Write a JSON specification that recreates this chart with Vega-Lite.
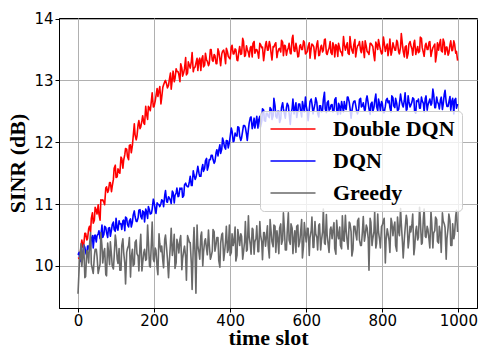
{
"$schema":"https://vega.github.io/schema/vega-lite/v6.json",
"width":418,"height":290,
"autosize":{"type":"none"},
"padding":{"left":59,"top":18,"right":5,"bottom":41},
"background":"white",
"config":{
"view":{"stroke":"black","strokeWidth":1},
"axis":{"grid":true,"gridColor":"#b0b0b0","gridWidth":1,"gridOpacity":1,"domainColor":"black","domainWidth":1,"tickColor":"black","tickSize":4,"tickWidth":1,"labelFont":"DejaVu Sans","labelFontSize":15,"labelColor":"black","titleFont":"Liberation Serif","titleFontSize":22,"titleFontWeight":"bold","titleColor":"black"},
"legend":{"orient":"none","legendX":201,"legendY":93,"symbolType":"M-2.5,0H2.5","symbolSize":324,"symbolStrokeWidth":1.5,"symbolOffset":15,"labelFont":"Liberation Serif","labelFontSize":22,"labelFontWeight":"bold","labelColor":"black","labelOffset":29,"rowPadding":10,"padding":7,"fillColor":"rgba(255,255,255,0.8)","strokeColor":"#cccccc","cornerRadius":4}
},
"datasets":{
"ddqn":[{"t":0,"v":10.12},{"t":5,"v":10.14},{"t":10,"v":10.42},{"t":15,"v":10.34},{"t":20,"v":10.53},{"t":25,"v":10.44},{"t":30,"v":10.64},{"t":35,"v":10.77},{"t":40,"v":10.69},{"t":45,"v":10.95},
{"t":50,"v":10.84},{"t":55,"v":10.84},{"t":60,"v":11.07},{"t":65,"v":11.07},{"t":70,"v":10.99},{"t":75,"v":11.28},{"t":80,"v":11.22},{"t":85,"v":11.35},{"t":90,"v":11.29},{"t":95,"v":11.58},
{"t":100,"v":11.43},{"t":105,"v":11.57},{"t":110,"v":11.50},{"t":115,"v":11.74},{"t":120,"v":11.71},{"t":125,"v":11.90},{"t":130,"v":11.77},{"t":135,"v":11.95},{"t":140,"v":11.83},{"t":145,"v":12.09},
{"t":150,"v":12.12},{"t":155,"v":12.10},{"t":160,"v":12.35},{"t":165,"v":12.25},{"t":170,"v":12.43},{"t":175,"v":12.29},{"t":180,"v":12.46},{"t":185,"v":12.58},{"t":190,"v":12.51},{"t":195,"v":12.80},
{"t":200,"v":12.58},{"t":205,"v":12.75},{"t":210,"v":12.74},{"t":215,"v":12.90},{"t":220,"v":12.72},{"t":225,"v":12.93},{"t":230,"v":13.00},{"t":235,"v":12.88},{"t":240,"v":13.01},{"t":245,"v":12.86},
{"t":250,"v":13.15},{"t":255,"v":13.03},{"t":260,"v":13.15},{"t":265,"v":13.10},{"t":270,"v":13.27},{"t":275,"v":13.07},{"t":280,"v":13.19},{"t":285,"v":13.09},{"t":290,"v":13.30},{"t":295,"v":13.20},
{"t":300,"v":13.45},{"t":305,"v":13.20},{"t":310,"v":13.28},{"t":315,"v":13.16},{"t":320,"v":13.36},{"t":325,"v":13.34},{"t":330,"v":13.22},{"t":335,"v":13.44},{"t":340,"v":13.31},{"t":345,"v":13.27},
{"t":350,"v":13.50},{"t":355,"v":13.31},{"t":360,"v":13.40},{"t":365,"v":13.27},{"t":370,"v":13.47},{"t":375,"v":13.24},{"t":380,"v":13.47},{"t":385,"v":13.43},{"t":390,"v":13.52},{"t":395,"v":13.39},
{"t":400,"v":13.35},{"t":405,"v":13.57},{"t":410,"v":13.43},{"t":415,"v":13.50},{"t":420,"v":13.32},{"t":425,"v":13.55},{"t":430,"v":13.43},{"t":435,"v":13.64},{"t":440,"v":13.40},{"t":445,"v":13.50},
{"t":450,"v":13.38},{"t":455,"v":13.55},{"t":460,"v":13.60},{"t":465,"v":13.44},{"t":470,"v":13.50},{"t":475,"v":13.36},{"t":480,"v":13.58},{"t":485,"v":13.54},{"t":490,"v":13.42},{"t":495,"v":13.63},
{"t":500,"v":13.49},{"t":505,"v":13.58},{"t":510,"v":13.33},{"t":515,"v":13.54},{"t":520,"v":13.61},{"t":525,"v":13.45},{"t":530,"v":13.52},{"t":535,"v":13.65},{"t":540,"v":13.40},{"t":545,"v":13.56},
{"t":550,"v":13.48},{"t":555,"v":13.60},{"t":560,"v":13.43},{"t":565,"v":13.73},{"t":570,"v":13.47},{"t":575,"v":13.53},{"t":580,"v":13.39},{"t":585,"v":13.58},{"t":590,"v":13.50},{"t":595,"v":13.62},
{"t":600,"v":13.44},{"t":605,"v":13.55},{"t":610,"v":13.36},{"t":615,"v":13.59},{"t":620,"v":13.54},{"t":625,"v":13.46},{"t":630,"v":13.64},{"t":635,"v":13.41},{"t":640,"v":13.57},{"t":645,"v":13.49},
{"t":650,"v":13.67},{"t":655,"v":13.42},{"t":660,"v":13.52},{"t":665,"v":13.45},{"t":670,"v":13.61},{"t":675,"v":13.38},{"t":680,"v":13.56},{"t":685,"v":13.60},{"t":690,"v":13.47},{"t":695,"v":13.40},
{"t":700,"v":13.59},{"t":705,"v":13.54},{"t":710,"v":13.44},{"t":715,"v":13.71},{"t":720,"v":13.49},{"t":725,"v":13.58},{"t":730,"v":13.38},{"t":735,"v":13.56},{"t":740,"v":13.63},{"t":745,"v":13.45},
{"t":750,"v":13.52},{"t":755,"v":13.64},{"t":760,"v":13.47},{"t":765,"v":13.42},{"t":770,"v":13.60},{"t":775,"v":13.55},{"t":780,"v":13.32},{"t":785,"v":13.58},{"t":790,"v":13.66},{"t":795,"v":13.50},
{"t":800,"v":13.44},{"t":805,"v":13.61},{"t":810,"v":13.53},{"t":815,"v":13.40},{"t":820,"v":13.67},{"t":825,"v":13.46},{"t":830,"v":13.56},{"t":835,"v":13.49},{"t":840,"v":13.62},{"t":845,"v":13.43},
{"t":850,"v":13.76},{"t":855,"v":13.47},{"t":860,"v":13.54},{"t":865,"v":13.36},{"t":870,"v":13.59},{"t":875,"v":13.57},{"t":880,"v":13.41},{"t":885,"v":13.65},{"t":890,"v":13.48},{"t":895,"v":13.45},
{"t":900,"v":13.70},{"t":905,"v":13.53},{"t":910,"v":13.39},{"t":915,"v":13.60},{"t":920,"v":13.50},{"t":925,"v":13.63},{"t":930,"v":13.46},{"t":935,"v":13.55},{"t":940,"v":13.30},{"t":945,"v":13.61},
{"t":950,"v":13.58},{"t":955,"v":13.48},{"t":960,"v":13.67},{"t":965,"v":13.42},{"t":970,"v":13.54},{"t":975,"v":13.44},{"t":980,"v":13.64},{"t":985,"v":13.49},{"t":990,"v":13.59},{"t":995,"v":13.47},
{"t":3,"v":10.13},{"t":8,"v":10.32},{"t":13,"v":10.30},{"t":18,"v":10.53},{"t":23,"v":10.42},{"t":28,"v":10.60},{"t":33,"v":10.55},{"t":38,"v":10.86},{"t":43,"v":10.74},{"t":48,"v":10.90},
{"t":53,"v":10.99},{"t":58,"v":10.74},{"t":63,"v":11.06},{"t":68,"v":11.03},{"t":73,"v":11.26},{"t":78,"v":11.19},{"t":83,"v":11.35},{"t":88,"v":11.20},{"t":93,"v":11.40},{"t":98,"v":11.63},
{"t":103,"v":11.44},{"t":108,"v":11.53},{"t":113,"v":11.76},{"t":118,"v":11.58},{"t":123,"v":11.80},{"t":128,"v":11.89},{"t":133,"v":11.72},{"t":138,"v":11.96},{"t":143,"v":11.95},{"t":148,"v":12.30},
{"t":153,"v":12.04},{"t":158,"v":12.29},{"t":163,"v":12.22},{"t":168,"v":12.35},{"t":173,"v":12.31},{"t":178,"v":12.58},{"t":183,"v":12.37},{"t":188,"v":12.55},{"t":193,"v":12.68},{"t":198,"v":12.57},
{"t":203,"v":12.67},{"t":208,"v":12.87},{"t":213,"v":12.84},{"t":218,"v":12.62},{"t":223,"v":12.89},{"t":228,"v":12.98},{"t":233,"v":12.94},{"t":238,"v":12.92},{"t":243,"v":13.12},{"t":248,"v":13.03},
{"t":253,"v":12.98},{"t":258,"v":13.19},{"t":263,"v":13.14},{"t":268,"v":12.98},{"t":273,"v":13.20},{"t":278,"v":13.13},{"t":283,"v":13.37},{"t":288,"v":13.12},{"t":293,"v":13.24},{"t":298,"v":13.31},
{"t":303,"v":13.14},{"t":308,"v":13.22},{"t":313,"v":13.36},{"t":318,"v":13.33},{"t":323,"v":13.16},{"t":328,"v":13.40},{"t":333,"v":13.25},{"t":338,"v":13.33},{"t":343,"v":13.24},{"t":348,"v":13.50},
{"t":353,"v":13.33},{"t":358,"v":13.42},{"t":363,"v":13.27},{"t":368,"v":13.51},{"t":373,"v":13.34},{"t":378,"v":13.43},{"t":383,"v":13.49},{"t":388,"v":13.27},{"t":393,"v":13.46},{"t":398,"v":13.36},
{"t":403,"v":13.54},{"t":408,"v":13.43},{"t":413,"v":13.51},{"t":418,"v":13.33},{"t":423,"v":13.47},{"t":428,"v":13.42},{"t":433,"v":13.68},{"t":438,"v":13.39},{"t":443,"v":13.56},{"t":448,"v":13.45},
{"t":453,"v":13.53},{"t":458,"v":13.38},{"t":463,"v":13.63},{"t":468,"v":13.50},{"t":473,"v":13.44},{"t":478,"v":13.60},{"t":483,"v":13.53},{"t":488,"v":13.32},{"t":493,"v":13.58},{"t":498,"v":13.49},
{"t":503,"v":13.63},{"t":508,"v":13.42},{"t":513,"v":13.55},{"t":518,"v":13.59},{"t":523,"v":13.37},{"t":528,"v":13.51},{"t":533,"v":13.46},{"t":538,"v":13.62},{"t":543,"v":13.57},{"t":548,"v":13.41},
{"t":553,"v":13.53},{"t":558,"v":13.44},{"t":563,"v":13.68},{"t":568,"v":13.48},{"t":573,"v":13.60},{"t":578,"v":13.38},{"t":583,"v":13.56},{"t":588,"v":13.50},{"t":593,"v":13.64},{"t":598,"v":13.43},
{"t":603,"v":13.47},{"t":608,"v":13.61},{"t":613,"v":13.52},{"t":618,"v":13.57},{"t":623,"v":13.35},{"t":628,"v":13.59},{"t":633,"v":13.40},{"t":638,"v":13.54},{"t":643,"v":13.46},{"t":648,"v":13.66},
{"t":653,"v":13.44},{"t":658,"v":13.49},{"t":663,"v":13.63},{"t":668,"v":13.42},{"t":673,"v":13.55},{"t":678,"v":13.58},{"t":683,"v":13.39},{"t":688,"v":13.52},{"t":693,"v":13.45},{"t":698,"v":13.71},
{"t":703,"v":13.49},{"t":708,"v":13.61},{"t":713,"v":13.42},{"t":718,"v":13.54},{"t":723,"v":13.44},{"t":728,"v":13.66},{"t":733,"v":13.51},{"t":738,"v":13.58},{"t":743,"v":13.48},{"t":748,"v":13.63},
{"t":753,"v":13.37},{"t":758,"v":13.55},{"t":763,"v":13.45},{"t":768,"v":13.60},{"t":773,"v":13.57},{"t":778,"v":13.40},{"t":783,"v":13.62},{"t":788,"v":13.50},{"t":793,"v":13.56},{"t":798,"v":13.43},
{"t":803,"v":13.70},{"t":808,"v":13.47},{"t":813,"v":13.59},{"t":818,"v":13.52},{"t":823,"v":13.41},{"t":828,"v":13.61},{"t":833,"v":13.49},{"t":838,"v":13.65},{"t":843,"v":13.46},{"t":848,"v":13.54},
{"t":853,"v":13.58},{"t":858,"v":13.38},{"t":863,"v":13.56},{"t":868,"v":13.44},{"t":873,"v":13.63},{"t":878,"v":13.51},{"t":883,"v":13.60},{"t":888,"v":13.42},{"t":893,"v":13.55},{"t":898,"v":13.47},
{"t":903,"v":13.68},{"t":908,"v":13.45},{"t":913,"v":13.57},{"t":918,"v":13.50},{"t":923,"v":13.62},{"t":928,"v":13.39},{"t":933,"v":13.53},{"t":938,"v":13.59},{"t":943,"v":13.43},{"t":948,"v":13.49},
{"t":953,"v":13.66},{"t":958,"v":13.46},{"t":963,"v":13.61},{"t":968,"v":13.54},{"t":973,"v":13.41},{"t":978,"v":13.58},{"t":983,"v":13.48},{"t":988,"v":13.64},{"t":993,"v":13.44},{"t":998,"v":13.32}],
"dqn":[{"t":0,"v":10.18},{"t":5,"v":10.10},{"t":10,"v":10.11},{"t":15,"v":10.34},{"t":20,"v":10.22},{"t":25,"v":10.32},{"t":30,"v":10.25},{"t":35,"v":10.44},{"t":40,"v":10.29},{"t":45,"v":10.50},
{"t":50,"v":10.49},{"t":55,"v":10.57},{"t":60,"v":10.48},{"t":65,"v":10.46},{"t":70,"v":10.64},{"t":75,"v":10.54},{"t":80,"v":10.61},{"t":85,"v":10.48},{"t":90,"v":10.67},{"t":95,"v":10.59},
{"t":100,"v":10.77},{"t":105,"v":10.58},{"t":110,"v":10.68},{"t":115,"v":10.59},{"t":120,"v":10.74},{"t":125,"v":10.79},{"t":130,"v":10.67},{"t":135,"v":10.73},{"t":140,"v":10.63},{"t":145,"v":10.82},
{"t":150,"v":10.80},{"t":155,"v":10.72},{"t":160,"v":10.90},{"t":165,"v":10.80},{"t":170,"v":10.89},{"t":175,"v":10.71},{"t":180,"v":10.88},{"t":185,"v":10.96},{"t":190,"v":10.84},{"t":195,"v":10.92},
{"t":200,"v":11.03},{"t":205,"v":10.85},{"t":210,"v":11.00},{"t":215,"v":10.96},{"t":220,"v":11.07},{"t":225,"v":10.96},{"t":230,"v":11.22},{"t":235,"v":11.03},{"t":240,"v":11.10},{"t":245,"v":11.01},
{"t":250,"v":11.19},{"t":255,"v":11.14},{"t":260,"v":11.26},{"t":265,"v":11.13},{"t":270,"v":11.24},{"t":275,"v":11.11},{"t":280,"v":11.31},{"t":285,"v":11.30},{"t":290,"v":11.28},{"t":295,"v":11.45},
{"t":300,"v":11.30},{"t":305,"v":11.47},{"t":310,"v":11.43},{"t":315,"v":11.61},{"t":320,"v":11.45},{"t":325,"v":11.56},{"t":330,"v":11.53},{"t":335,"v":11.70},{"t":340,"v":11.55},{"t":345,"v":11.72},
{"t":350,"v":11.79},{"t":355,"v":11.72},{"t":360,"v":11.69},{"t":365,"v":11.88},{"t":370,"v":11.87},{"t":375,"v":11.82},{"t":380,"v":12.07},{"t":385,"v":11.93},{"t":390,"v":12.03},{"t":395,"v":11.91},
{"t":400,"v":12.09},{"t":405,"v":12.18},{"t":410,"v":12.02},{"t":415,"v":12.11},{"t":420,"v":12.25},{"t":425,"v":12.10},{"t":430,"v":12.07},{"t":435,"v":12.27},{"t":440,"v":12.24},{"t":445,"v":12.03},
{"t":450,"v":12.31},{"t":455,"v":12.41},{"t":460,"v":12.27},{"t":465,"v":12.23},{"t":470,"v":12.42},{"t":475,"v":12.36},{"t":480,"v":12.25},{"t":485,"v":12.54},{"t":490,"v":12.35},{"t":495,"v":12.47},
{"t":500,"v":12.42},{"t":505,"v":12.56},{"t":510,"v":12.37},{"t":515,"v":12.71},{"t":520,"v":12.42},{"t":525,"v":12.50},{"t":530,"v":12.32},{"t":535,"v":12.56},{"t":540,"v":12.54},{"t":545,"v":12.39},
{"t":550,"v":12.63},{"t":555,"v":12.47},{"t":560,"v":12.45},{"t":565,"v":12.70},{"t":570,"v":12.54},{"t":575,"v":12.40},{"t":580,"v":12.62},{"t":585,"v":12.52},{"t":590,"v":12.66},{"t":595,"v":12.49},
{"t":600,"v":12.59},{"t":605,"v":12.35},{"t":610,"v":12.66},{"t":615,"v":12.63},{"t":620,"v":12.53},{"t":625,"v":12.72},{"t":630,"v":12.47},{"t":635,"v":12.59},{"t":640,"v":12.49},{"t":645,"v":12.69},
{"t":650,"v":12.54},{"t":655,"v":12.64},{"t":660,"v":12.52},{"t":665,"v":12.60},{"t":670,"v":12.49},{"t":675,"v":12.69},{"t":680,"v":12.53},{"t":685,"v":12.63},{"t":690,"v":12.46},{"t":695,"v":12.59},
{"t":700,"v":12.66},{"t":705,"v":12.53},{"t":710,"v":12.73},{"t":715,"v":12.56},{"t":720,"v":12.50},{"t":725,"v":12.66},{"t":730,"v":12.60},{"t":735,"v":12.46},{"t":740,"v":12.69},{"t":745,"v":12.57},
{"t":750,"v":12.64},{"t":755,"v":12.52},{"t":760,"v":12.75},{"t":765,"v":12.54},{"t":770,"v":12.62},{"t":775,"v":12.49},{"t":780,"v":12.67},{"t":785,"v":12.58},{"t":790,"v":12.70},{"t":795,"v":12.51},
{"t":800,"v":12.63},{"t":805,"v":12.48},{"t":810,"v":12.68},{"t":815,"v":12.64},{"t":820,"v":12.56},{"t":825,"v":12.75},{"t":830,"v":12.59},{"t":835,"v":12.71},{"t":840,"v":12.51},{"t":845,"v":12.62},
{"t":850,"v":12.69},{"t":855,"v":12.57},{"t":860,"v":12.80},{"t":865,"v":12.53},{"t":870,"v":12.66},{"t":875,"v":12.60},{"t":880,"v":12.72},{"t":885,"v":12.50},{"t":890,"v":12.67},{"t":895,"v":12.70},
{"t":900,"v":12.55},{"t":905,"v":12.67},{"t":910,"v":12.49},{"t":915,"v":12.75},{"t":920,"v":12.60},{"t":925,"v":12.70},{"t":930,"v":12.63},{"t":935,"v":12.78},{"t":940,"v":12.56},{"t":945,"v":12.66},
{"t":950,"v":12.54},{"t":955,"v":12.73},{"t":960,"v":12.61},{"t":965,"v":12.84},{"t":970,"v":12.58},{"t":975,"v":12.65},{"t":980,"v":12.52},{"t":985,"v":12.71},{"t":990,"v":12.68},{"t":995,"v":12.55},
{"t":3,"v":10.22},{"t":8,"v":10.07},{"t":13,"v":10.22},{"t":18,"v":10.30},{"t":23,"v":10.17},{"t":28,"v":10.32},{"t":33,"v":10.32},{"t":38,"v":10.49},{"t":43,"v":10.49},{"t":48,"v":10.39},
{"t":53,"v":10.52},{"t":58,"v":10.44},{"t":63,"v":10.66},{"t":68,"v":10.51},{"t":73,"v":10.62},{"t":78,"v":10.46},{"t":83,"v":10.62},{"t":88,"v":10.58},{"t":93,"v":10.71},{"t":98,"v":10.56},
{"t":103,"v":10.61},{"t":108,"v":10.73},{"t":113,"v":10.68},{"t":118,"v":10.73},{"t":123,"v":10.57},{"t":128,"v":10.77},{"t":133,"v":10.63},{"t":138,"v":10.76},{"t":143,"v":10.71},{"t":148,"v":10.89},
{"t":153,"v":10.72},{"t":158,"v":10.78},{"t":163,"v":10.91},{"t":168,"v":10.76},{"t":173,"v":10.87},{"t":178,"v":10.92},{"t":183,"v":10.77},{"t":188,"v":10.90},{"t":193,"v":10.85},{"t":198,"v":11.08},
{"t":203,"v":10.91},{"t":208,"v":11.02},{"t":213,"v":10.99},{"t":218,"v":11.01},{"t":223,"v":11.05},{"t":228,"v":11.14},{"t":233,"v":11.04},{"t":238,"v":11.12},{"t":243,"v":11.06},{"t":248,"v":11.21},
{"t":253,"v":11.02},{"t":258,"v":11.18},{"t":263,"v":11.12},{"t":268,"v":11.26},{"t":273,"v":11.26},{"t":278,"v":11.14},{"t":283,"v":11.34},{"t":288,"v":11.28},{"t":293,"v":11.37},{"t":298,"v":11.30},
{"t":303,"v":11.54},{"t":308,"v":11.40},{"t":313,"v":11.53},{"t":318,"v":11.50},{"t":323,"v":11.45},{"t":328,"v":11.64},{"t":333,"v":11.58},{"t":338,"v":11.74},{"t":343,"v":11.62},{"t":348,"v":11.72},
{"t":353,"v":11.79},{"t":358,"v":11.66},{"t":363,"v":11.83},{"t":368,"v":11.78},{"t":373,"v":11.96},{"t":378,"v":11.89},{"t":383,"v":12.00},{"t":388,"v":11.89},{"t":393,"v":12.02},{"t":398,"v":12.00},
{"t":403,"v":12.23},{"t":408,"v":12.01},{"t":413,"v":12.15},{"t":418,"v":12.10},{"t":423,"v":12.24},{"t":428,"v":12.03},{"t":433,"v":12.19},{"t":438,"v":12.27},{"t":443,"v":12.13},{"t":448,"v":12.21},
{"t":453,"v":12.40},{"t":458,"v":12.22},{"t":463,"v":12.39},{"t":468,"v":12.34},{"t":473,"v":12.23},{"t":478,"v":12.42},{"t":483,"v":12.34},{"t":488,"v":12.52},{"t":493,"v":12.34},{"t":498,"v":12.47},
{"t":503,"v":12.40},{"t":508,"v":12.53},{"t":513,"v":12.43},{"t":518,"v":12.59},{"t":523,"v":12.39},{"t":528,"v":12.50},{"t":533,"v":12.38},{"t":538,"v":12.64},{"t":543,"v":12.45},{"t":548,"v":12.56},
{"t":553,"v":12.59},{"t":558,"v":12.29},{"t":563,"v":12.55},{"t":568,"v":12.46},{"t":573,"v":12.64},{"t":578,"v":12.51},{"t":583,"v":12.62},{"t":588,"v":12.41},{"t":593,"v":12.56},{"t":598,"v":12.73},
{"t":603,"v":12.49},{"t":608,"v":12.53},{"t":613,"v":12.70},{"t":618,"v":12.46},{"t":623,"v":12.62},{"t":628,"v":12.64},{"t":633,"v":12.41},{"t":638,"v":12.59},{"t":643,"v":12.52},{"t":648,"v":12.81},
{"t":653,"v":12.48},{"t":658,"v":12.67},{"t":663,"v":12.54},{"t":668,"v":12.61},{"t":673,"v":12.51},{"t":678,"v":12.72},{"t":683,"v":12.45},{"t":688,"v":12.58},{"t":693,"v":12.66},{"t":698,"v":12.49},
{"t":703,"v":12.55},{"t":708,"v":12.73},{"t":713,"v":12.65},{"t":718,"v":12.39},{"t":723,"v":12.62},{"t":728,"v":12.67},{"t":733,"v":12.49},{"t":738,"v":12.54},{"t":743,"v":12.71},{"t":748,"v":12.59},
{"t":753,"v":12.52},{"t":758,"v":12.70},{"t":763,"v":12.63},{"t":768,"v":12.45},{"t":773,"v":12.65},{"t":778,"v":12.56},{"t":783,"v":12.78},{"t":788,"v":12.51},{"t":793,"v":12.61},{"t":798,"v":12.66},
{"t":803,"v":12.48},{"t":808,"v":12.58},{"t":813,"v":12.71},{"t":818,"v":12.67},{"t":823,"v":12.49},{"t":828,"v":12.72},{"t":833,"v":12.56},{"t":838,"v":12.63},{"t":843,"v":12.53},{"t":848,"v":12.78},
{"t":853,"v":12.60},{"t":858,"v":12.68},{"t":863,"v":12.52},{"t":868,"v":12.75},{"t":873,"v":12.57},{"t":878,"v":12.65},{"t":883,"v":12.70},{"t":888,"v":12.47},{"t":893,"v":12.66},{"t":898,"v":12.55},
{"t":903,"v":12.73},{"t":908,"v":12.63},{"t":913,"v":12.71},{"t":918,"v":12.52},{"t":923,"v":12.66},{"t":928,"v":12.60},{"t":933,"v":12.86},{"t":938,"v":12.56},{"t":943,"v":12.73},{"t":948,"v":12.61},
{"t":953,"v":12.69},{"t":958,"v":12.53},{"t":963,"v":12.78},{"t":968,"v":12.65},{"t":973,"v":12.58},{"t":978,"v":12.74},{"t":983,"v":12.67},{"t":988,"v":12.46},{"t":993,"v":12.71},{"t":998,"v":12.62}],
"greedy":[{"t":0,"v":9.55},{"t":5,"v":10.14},{"t":10,"v":9.99},{"t":15,"v":10.34},{"t":20,"v":9.83},{"t":25,"v":10.23},{"t":30,"v":10.32},{"t":35,"v":10.03},{"t":40,"v":9.88},{"t":45,"v":10.27},
{"t":50,"v":10.16},{"t":55,"v":9.94},{"t":60,"v":10.54},{"t":65,"v":10.05},{"t":70,"v":10.28},{"t":75,"v":9.84},{"t":80,"v":10.24},{"t":85,"v":10.39},{"t":90,"v":10.00},{"t":95,"v":10.15},
{"t":100,"v":10.41},{"t":105,"v":10.04},{"t":110,"v":9.93},{"t":115,"v":10.33},{"t":120,"v":10.22},{"t":125,"v":9.71},{"t":130,"v":10.28},{"t":135,"v":10.46},{"t":140,"v":10.14},{"t":145,"v":10.00},
{"t":150,"v":10.38},{"t":155,"v":10.20},{"t":160,"v":9.92},{"t":165,"v":10.51},{"t":170,"v":10.05},{"t":175,"v":10.27},{"t":180,"v":10.11},{"t":185,"v":10.40},{"t":190,"v":9.98},{"t":195,"v":10.71},
{"t":200,"v":10.07},{"t":205,"v":10.25},{"t":210,"v":9.86},{"t":215,"v":10.36},{"t":220,"v":10.32},{"t":225,"v":9.97},{"t":230,"v":10.50},{"t":235,"v":10.12},{"t":240,"v":10.06},{"t":245,"v":10.61},
{"t":250,"v":10.27},{"t":255,"v":9.96},{"t":260,"v":10.43},{"t":265,"v":10.21},{"t":270,"v":10.49},{"t":275,"v":10.12},{"t":280,"v":10.32},{"t":285,"v":9.77},{"t":290,"v":10.45},{"t":295,"v":10.38},
{"t":300,"v":9.62},{"t":305,"v":10.62},{"t":310,"v":9.56},{"t":315,"v":10.33},{"t":320,"v":10.11},{"t":325,"v":10.55},{"t":330,"v":10.22},{"t":335,"v":10.44},{"t":340,"v":10.18},{"t":345,"v":10.36},
{"t":350,"v":10.15},{"t":355,"v":10.59},{"t":360,"v":10.24},{"t":365,"v":10.46},{"t":370,"v":10.09},{"t":375,"v":10.37},{"t":380,"v":10.53},{"t":385,"v":10.20},{"t":390,"v":10.64},{"t":395,"v":10.26},
{"t":400,"v":10.17},{"t":405,"v":10.52},{"t":410,"v":10.39},{"t":415,"v":10.08},{"t":420,"v":10.59},{"t":425,"v":10.33},{"t":430,"v":10.48},{"t":435,"v":10.22},{"t":440,"v":10.72},{"t":445,"v":10.26},
{"t":450,"v":10.48},{"t":455,"v":10.19},{"t":460,"v":10.59},{"t":465,"v":10.39},{"t":470,"v":10.65},{"t":475,"v":10.23},{"t":480,"v":10.50},{"t":485,"v":10.10},{"t":490,"v":10.54},{"t":495,"v":10.45},
{"t":500,"v":10.33},{"t":505,"v":10.75},{"t":510,"v":10.39},{"t":515,"v":10.66},{"t":520,"v":10.22},{"t":525,"v":10.46},{"t":530,"v":10.61},{"t":535,"v":10.35},{"t":540,"v":10.86},{"t":545,"v":10.26},
{"t":550,"v":10.55},{"t":555,"v":10.42},{"t":560,"v":10.68},{"t":565,"v":10.20},{"t":570,"v":10.57},{"t":575,"v":10.64},{"t":580,"v":10.31},{"t":585,"v":10.53},{"t":590,"v":10.13},{"t":595,"v":10.70},
{"t":600,"v":10.39},{"t":605,"v":10.61},{"t":610,"v":10.46},{"t":615,"v":10.79},{"t":620,"v":10.30},{"t":625,"v":10.52},{"t":630,"v":10.26},{"t":635,"v":10.68},{"t":640,"v":10.41},{"t":645,"v":10.92},
{"t":650,"v":10.35},{"t":655,"v":10.50},{"t":660,"v":10.22},{"t":665,"v":10.63},{"t":670,"v":10.57},{"t":675,"v":10.28},{"t":680,"v":10.74},{"t":685,"v":10.44},{"t":690,"v":10.33},{"t":695,"v":10.81},
{"t":700,"v":10.40},{"t":705,"v":10.58},{"t":710,"v":10.27},{"t":715,"v":10.69},{"t":720,"v":10.16},{"t":725,"v":10.64},{"t":730,"v":10.53},{"t":735,"v":10.73},{"t":740,"v":10.42},{"t":745,"v":10.33},
{"t":750,"v":10.80},{"t":755,"v":10.49},{"t":760,"v":10.62},{"t":765,"v":9.93},{"t":770,"v":10.71},{"t":775,"v":10.44},{"t":780,"v":10.88},{"t":785,"v":10.36},{"t":790,"v":10.55},{"t":795,"v":10.29},
{"t":800,"v":10.66},{"t":805,"v":10.77},{"t":810,"v":10.42},{"t":815,"v":10.53},{"t":820,"v":10.22},{"t":825,"v":10.71},{"t":830,"v":10.62},{"t":835,"v":10.33},{"t":840,"v":10.79},{"t":845,"v":10.49},
{"t":850,"v":10.68},{"t":855,"v":10.13},{"t":860,"v":10.60},{"t":865,"v":10.75},{"t":870,"v":10.40},{"t":875,"v":10.55},{"t":880,"v":10.84},{"t":885,"v":10.29},{"t":890,"v":10.64},{"t":895,"v":10.46},
{"t":900,"v":10.75},{"t":905,"v":10.37},{"t":910,"v":10.92},{"t":915,"v":10.46},{"t":920,"v":10.59},{"t":925,"v":10.29},{"t":930,"v":10.70},{"t":935,"v":10.53},{"t":940,"v":10.79},{"t":945,"v":10.40},
{"t":950,"v":10.64},{"t":955,"v":10.22},{"t":960,"v":10.73},{"t":965,"v":10.62},{"t":970,"v":10.44},{"t":975,"v":10.84},{"t":980,"v":10.33},{"t":985,"v":10.68},{"t":990,"v":10.51},{"t":995,"v":10.90},
{"t":3,"v":9.97},{"t":8,"v":10.36},{"t":13,"v":10.21},{"t":18,"v":9.81},{"t":23,"v":10.25},{"t":28,"v":10.05},{"t":33,"v":10.54},{"t":38,"v":9.94},{"t":43,"v":10.16},{"t":48,"v":10.27},
{"t":53,"v":9.88},{"t":58,"v":10.03},{"t":63,"v":10.32},{"t":68,"v":10.23},{"t":73,"v":9.86},{"t":78,"v":10.37},{"t":83,"v":10.02},{"t":88,"v":10.17},{"t":93,"v":9.95},{"t":98,"v":10.50},
{"t":103,"v":10.11},{"t":108,"v":10.28},{"t":113,"v":9.93},{"t":118,"v":10.44},{"t":123,"v":10.04},{"t":128,"v":10.22},{"t":133,"v":10.33},{"t":138,"v":9.82},{"t":143,"v":10.27},{"t":148,"v":10.03},
{"t":153,"v":10.42},{"t":158,"v":10.16},{"t":163,"v":10.33},{"t":168,"v":9.92},{"t":173,"v":10.22},{"t":178,"v":10.09},{"t":183,"v":10.66},{"t":188,"v":10.00},{"t":193,"v":10.38},{"t":198,"v":10.11},
{"t":203,"v":10.29},{"t":208,"v":9.97},{"t":213,"v":10.52},{"t":218,"v":10.23},{"t":223,"v":10.08},{"t":228,"v":10.43},{"t":233,"v":10.28},{"t":238,"v":9.81},{"t":243,"v":10.36},{"t":248,"v":10.17},
{"t":253,"v":10.51},{"t":258,"v":10.05},{"t":263,"v":10.34},{"t":268,"v":10.43},{"t":273,"v":9.94},{"t":278,"v":10.25},{"t":283,"v":10.14},{"t":288,"v":10.49},{"t":293,"v":10.38},{"t":298,"v":10.03},
{"t":303,"v":10.33},{"t":308,"v":10.14},{"t":313,"v":10.66},{"t":318,"v":10.22},{"t":323,"v":10.49},{"t":328,"v":10.00},{"t":333,"v":10.40},{"t":338,"v":10.27},{"t":343,"v":10.58},{"t":348,"v":10.11},
{"t":353,"v":10.24},{"t":358,"v":10.55},{"t":363,"v":10.35},{"t":368,"v":10.46},{"t":373,"v":9.98},{"t":378,"v":10.51},{"t":383,"v":10.09},{"t":388,"v":10.40},{"t":393,"v":10.22},{"t":398,"v":10.66},
{"t":403,"v":10.22},{"t":408,"v":10.33},{"t":413,"v":10.63},{"t":418,"v":10.17},{"t":423,"v":10.46},{"t":428,"v":10.52},{"t":433,"v":10.11},{"t":438,"v":10.39},{"t":443,"v":10.24},{"t":448,"v":10.81},
{"t":453,"v":10.34},{"t":458,"v":10.61},{"t":463,"v":10.19},{"t":468,"v":10.45},{"t":473,"v":10.23},{"t":478,"v":10.72},{"t":483,"v":10.39},{"t":488,"v":10.54},{"t":493,"v":10.32},{"t":498,"v":10.65},
{"t":503,"v":10.13},{"t":508,"v":10.53},{"t":513,"v":10.31},{"t":518,"v":10.64},{"t":523,"v":10.57},{"t":528,"v":10.20},{"t":533,"v":10.68},{"t":538,"v":10.42},{"t":543,"v":10.55},{"t":548,"v":10.26},
{"t":553,"v":10.86},{"t":558,"v":10.35},{"t":563,"v":10.61},{"t":568,"v":10.46},{"t":573,"v":10.22},{"t":578,"v":10.66},{"t":583,"v":10.39},{"t":588,"v":10.75},{"t":593,"v":10.33},{"t":598,"v":10.50},
{"t":603,"v":10.61},{"t":608,"v":10.17},{"t":613,"v":10.57},{"t":618,"v":10.30},{"t":623,"v":10.72},{"t":628,"v":10.46},{"t":633,"v":10.66},{"t":638,"v":10.26},{"t":643,"v":10.55},{"t":648,"v":10.37},
{"t":653,"v":10.83},{"t":658,"v":10.33},{"t":663,"v":10.59},{"t":668,"v":10.44},{"t":673,"v":10.70},{"t":678,"v":10.19},{"t":683,"v":10.50},{"t":688,"v":10.63},{"t":693,"v":10.28},{"t":698,"v":10.41},
{"t":703,"v":10.82},{"t":708,"v":10.38},{"t":713,"v":10.71},{"t":718,"v":10.55},{"t":723,"v":10.27},{"t":728,"v":10.64},{"t":733,"v":10.42},{"t":738,"v":10.77},{"t":743,"v":10.33},{"t":748,"v":10.58},
{"t":753,"v":10.40},{"t":758,"v":10.66},{"t":763,"v":10.44},{"t":768,"v":10.77},{"t":773,"v":10.33},{"t":778,"v":10.55},{"t":783,"v":10.29},{"t":788,"v":10.84},{"t":793,"v":10.42},{"t":798,"v":10.64},
{"t":803,"v":10.73},{"t":808,"v":10.05},{"t":813,"v":10.60},{"t":818,"v":10.40},{"t":823,"v":10.77},{"t":828,"v":10.49},{"t":833,"v":10.71},{"t":838,"v":10.24},{"t":843,"v":10.55},{"t":848,"v":10.93},
{"t":853,"v":10.38},{"t":858,"v":10.44},{"t":863,"v":10.82},{"t":868,"v":10.29},{"t":873,"v":10.64},{"t":878,"v":10.68},{"t":883,"v":10.18},{"t":888,"v":10.57},{"t":893,"v":10.42},{"t":898,"v":10.95},
{"t":903,"v":10.35},{"t":908,"v":10.77},{"t":913,"v":10.48},{"t":918,"v":10.64},{"t":923,"v":10.42},{"t":928,"v":10.88},{"t":933,"v":10.29},{"t":938,"v":10.57},{"t":943,"v":10.75},{"t":948,"v":10.37},
{"t":953,"v":10.51},{"t":958,"v":10.86},{"t":963,"v":10.68},{"t":968,"v":10.11},{"t":973,"v":10.62},{"t":978,"v":10.73},{"t":983,"v":10.33},{"t":988,"v":10.44},{"t":993,"v":10.81},{"t":998,"v":10.55}]
},
"encoding":{
"x":{"field":"t","type":"quantitative","scale":{"domain":[-50,1049],"nice":false,"zero":false},"axis":{"values":[0,200,400,600,800,1000],"format":"d","title":"time slot","labelPadding":1,"titleBaseline":"alphabetic","titleY":36}},
"y":{"field":"v","type":"quantitative","scale":{"domain":[9.32,14.01],"nice":false,"zero":false},"axis":{"values":[10,11,12,13,14],"title":"SINR (dB)","titlePadding":4}}
},
"layer":[
{"data":{"name":"ddqn"},"mark":{"type":"line","strokeWidth":1.6,"strokeJoin":"round","clip":true},"encoding":{"color":{"datum":"Double DQN","scale":{"domain":["Double DQN","DQN","Greedy"],"range":["#ff0000","#0000ff","#696969"]},"legend":{"title":null,"labelExpr":"datum.label + '\u2002\u2009'"}}}},
{"data":{"name":"dqn"},"mark":{"type":"line","strokeWidth":1.6,"strokeJoin":"round","clip":true},"encoding":{"color":{"datum":"DQN"}}},
{"data":{"name":"greedy"},"mark":{"type":"line","strokeWidth":1.6,"strokeJoin":"round","clip":true},"encoding":{"color":{"datum":"Greedy"}}}
]
}
